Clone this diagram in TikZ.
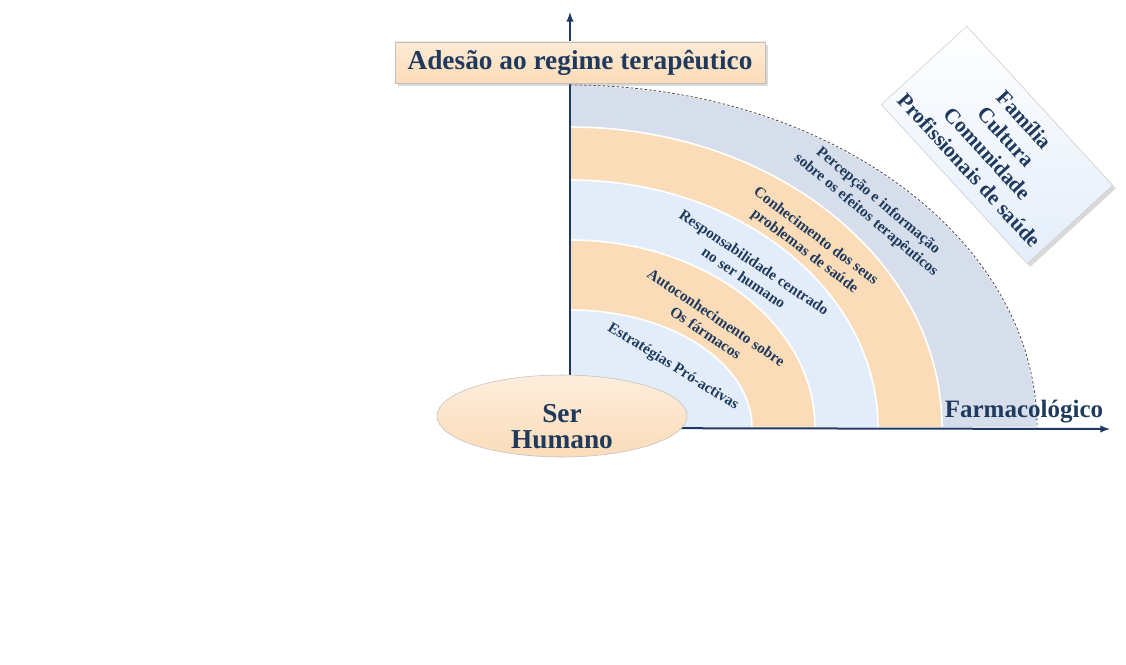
\documentclass[tikz,border=0pt]{standalone}
\usepackage{fontspec}
\setmainfont{Liberation Serif}
\usetikzlibrary{arrows,shapes.geometric,shadows}

\definecolor{navy}{HTML}{1F3A5C}
\definecolor{axisblue}{HTML}{1F3864}
\definecolor{peach}{HTML}{FBDCB9}
\definecolor{paleblue}{HTML}{E3EDFA}
\definecolor{greyblue}{HTML}{D6DEEB}

\begin{document}
\begin{tikzpicture}
[x=0.75pt,y=0.75pt,
band/.style={draw=white,line width=1.2pt},
rim/.style={draw=black!70,line width=0.6pt,dash pattern=on 2pt off 1.5pt},
axis/.style={-latex,draw=axisblue,line width=1.5pt},
bandlabel/.style={font=\bfseries\fontsize{11.5}{14}\selectfont,text=navy,align=center,inner sep=0pt},
titlebox/.style={rectangle,draw=black!25,top color=peach!60,bottom color=peach,minimum width=277.5pt,minimum height=30.75pt,drop shadow={opacity=0.3},font=\bfseries\fontsize{20.5}{24}\selectfont,text=navy},
factorbox/.style={rectangle,draw=black!20,top color=white,bottom color=paleblue,minimum width=162pt,minimum height=87pt,drop shadow={opacity=0.3},font=\bfseries\fontsize{16}{18.75}\selectfont,text=navy,align=center},
human/.style={ellipse,draw=black!25,top color=peach!50,bottom color=peach,minimum width=187.5pt,minimum height=61.5pt,inner sep=0pt},
humantext/.style={font=\bfseries\fontsize{20.5}{19}\selectfont,text=navy,align=center,inner sep=0pt},
axislabel/.style={font=\bfseries\fontsize{18.75}{22}\selectfont,text=navy}]

\useasboundingbox (-570,-236) rectangle (556,428);

% Drawing bands, outer one first
\foreach \rx/\ry/\col in {467/343/greyblue,372/301/peach,308/248/paleblue,245/188/peach,182/118/paleblue} {
	\filldraw[band,fill=\col] (0,0) -- (\rx,0) arc[start angle=0,end angle=90,x radius=\rx,y radius=\ry] -- cycle;
}
\draw[rim] (0,343) arc[start angle=90,end angle=0,x radius=467,y radius=343];

% Labels of the bands
\node[bandlabel,rotate=-32] (proactive) at (103,61) {Estratégias Pró-activas};
\node[bandlabel,rotate=-34] (selfknow) at (141,103) {Autoconhecimento sobre\\Os fármacos};
\node[bandlabel,rotate=-34] (duty) at (179,158) {Responsabilidade centrado\\no ser humano};
\node[bandlabel,rotate=-37] (problems) at (240,184) {Conhecimento dos seus\\problemas de saúde};
\node[bandlabel,rotate=-40] (effects) at (302,220) {Percepção e informação\\sobre os efeitos terapêuticos};

% Drawing axes
\coordinate (origin) at (0,0);
\coordinate (ytip) at (0,416);
\coordinate (xtip) at (540,-1);
\draw[axis] (origin) -- (ytip);
\draw[axis] (origin) -- (xtip);

% Boxes on top
\node[titlebox] (title) at (10,365.5) {Adesão ao regime terapêutico};
\node[factorbox,rotate=-47.5] (factors) at (427,283) {Família\\Cultura\\Comunidade\\Profissionais de saúde};
\node[human] (human) at (-8,12) {};
\node[humantext] (humanname) at ([yshift=-8]human.center) {Ser\\Humano};
\node[axislabel] (xlabel) at (454,16) {Farmacológico};
\end{tikzpicture}
\end{document}
